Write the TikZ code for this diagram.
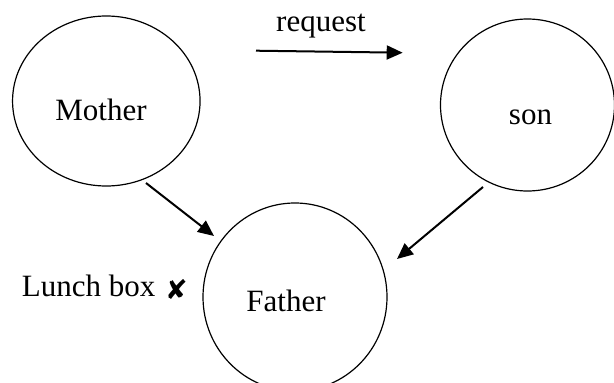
\documentclass[tikz,border=0pt]{standalone}
\usepackage{fontspec}
\setmainfont{Liberation Serif}
\newfontfamily\symfont{DejaVu Sans}
\usetikzlibrary{arrows.meta,shapes.geometric}

\begin{document}
\begin{tikzpicture}[x=1pt,y=-1pt,
  person/.style={draw,ellipse,line width=1.2pt,inner sep=0pt},
  label/.style={font=\fontsize{31}{31}\selectfont,inner sep=0pt,anchor=base},
  link/.style={line width=2pt,-{Triangle[length=16pt,width=14pt]}}]
  \useasboundingbox (0,0) rectangle (614,383);

  % the three people
  \node[person,minimum width=187.5pt,minimum height=170pt] (mother) at (106.3,101) {};
  \node[person,minimum width=174pt,minimum height=172pt] (son) at (527.5,105) {};
  \node[person,minimum width=184pt,minimum height=188pt] (father) at (295,297) {};

  \node[label] (mothertxt) at (101,120.5) {Mother};
  \node[label] (sontxt) at (530.5,124) {son};
  \node[label] (fathertxt) at (286,311.5) {Father};

  % request from mother towards son
  \node[label] (request) at (321,31) {request};
  \coordinate (req1) at (256,50.7);
  \coordinate (req2) at (402.7,52.7);
  \draw[link] (req1) -- (req2);

  % both hand over to the father
  \coordinate (m1) at (146,183);
  \coordinate (m2) at (214,236);
  \draw[link] (m1) -- (m2);
  \coordinate (s1) at (483,187);
  \coordinate (s2) at (397,259);
  \draw[link] (s1) -- (s2);

  % lunch box note
  \node[label,anchor=base west] (lunch) at (21.7,296.7) {Lunch box};
  \node[inner sep=0pt,font=\symfont\fontsize{27}{27}\selectfont] (cross) at (176.5,290) {✘};
\end{tikzpicture}
\end{document}
